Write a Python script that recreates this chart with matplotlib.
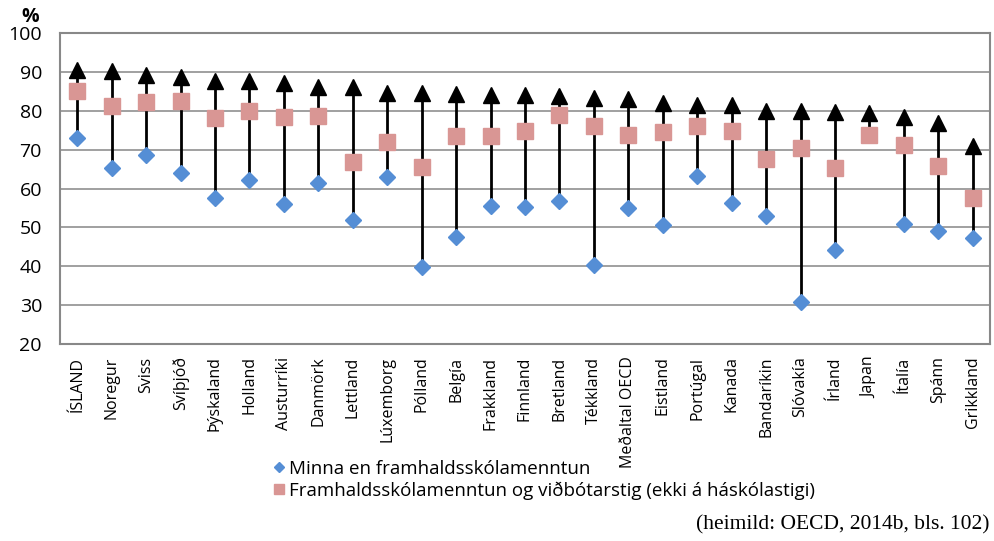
import matplotlib.pyplot as plt
import numpy as np

plt.rcParams['font.family'] = ['Open Sans', 'DejaVu Sans']

# data (%)
countries = ["ÍSLAND", "Noregur", "Sviss", "Svíþjóð", "Þýskaland", "Holland", "Austurríki",
             "Danmörk", "Lettland", "Lúxemborg", "Pólland", "Belgía", "Frakkland", "Finnland",
             "Bretland", "Tékkland", "Meðaltal OECD", "Eistland", "Portúgal", "Kanada",
             "Bandaríkin", "Slóvakía", "Írland", "Japan", "Ítalía", "Spánn", "Grikkland"]
below_upper_sec = [73.0, 65.3, 68.5, 64.0, 57.5, 62.2, 55.9, 61.3, 51.8, 63.0, 39.8, 47.5, 55.5, 55.2,
                   56.8, 40.4, 54.9, 50.6, 63.2, 56.3, 52.8, 30.7, 44.1, np.nan, 50.9, 49.1, 47.3]
upper_sec = [85.0, 81.1, 82.2, 82.4, 78.1, 79.9, 78.4, 78.6, 66.7, 71.9, 65.5, 73.4, 73.4, 74.7,
             78.8, 76.0, 73.7, 74.5, 76.0, 74.7, 67.5, 70.4, 65.2, 73.7, 71.1, 65.7, 57.5]
tertiary = [90.5, 90.1, 89.2, 88.6, 87.7, 87.6, 87.1, 86.2, 86.0, 84.6, 84.6, 84.3, 84.1, 84.1,
            83.8, 83.3, 82.9, 81.9, 81.6, 81.4, 80.0, 79.9, 79.7, 79.5, 78.5, 76.8, 70.9]

x = np.arange(len(countries))
low = np.fmin(below_upper_sec, upper_sec)

fig = plt.figure(figsize=(9.95, 5.41), dpi=100)
ax = fig.add_axes([60 / 995, 1 - 344 / 541, 930 / 995, 311 / 541])

# grid + frame
for v in range(30, 100, 10):
    ax.axhline(v, color="#999999", lw=1.3, zorder=0)
for s in ax.spines.values():
    s.set_color("#888888")
    s.set_linewidth(1.5)

# high-low lines
ax.vlines(x, low, tertiary, color="black", lw=2, zorder=1)

ax.plot(x, tertiary, ls="none", marker="^", ms=11, color="black", zorder=2)
ax.plot(x, upper_sec, ls="none", marker="s", ms=12, color="#D99694", zorder=3,
        label="Framhaldsskólamenntun og viðbótarstig (ekki á háskólastigi)")
ax.plot(x, below_upper_sec, ls="none", marker="D", ms=8.5, color="#558ED5", zorder=3,
        label="Minna en framhaldsskólamenntun")

ax.set_xlim(-0.5, len(countries) - 0.5)
ax.set_ylim(20, 100)
ax.set_yticks(range(20, 101, 10))
ax.tick_params(axis="y", length=0, labelsize=14, pad=13)
ax.tick_params(axis="x", length=0, labelsize=11.5, pad=9)
ax.set_xticks(x)
ax.set_xticklabels(countries, rotation=90, va="top")

fig.text(30 / 995, 1 - 17 / 541, "%", fontsize=14, fontweight="bold", ha="center", va="center")

h, l = ax.get_legend_handles_labels()
leg = fig.legend(h[::-1], l[::-1], loc="upper left", bbox_to_anchor=(266 / 995, 1 - 452 / 541),
                 frameon=False, fontsize=13.5, handlelength=0.55, handletextpad=0.3,
                 labelspacing=0.2, borderaxespad=0, markerscale=0.6)

fig.text(990 / 995, 1 - 525 / 541, "(heimild: OECD, 2014b, bls. 102)", family="Liberation Serif",
         fontsize=15.5, ha="right", va="center")

fig.savefig("out.png", dpi=100)
